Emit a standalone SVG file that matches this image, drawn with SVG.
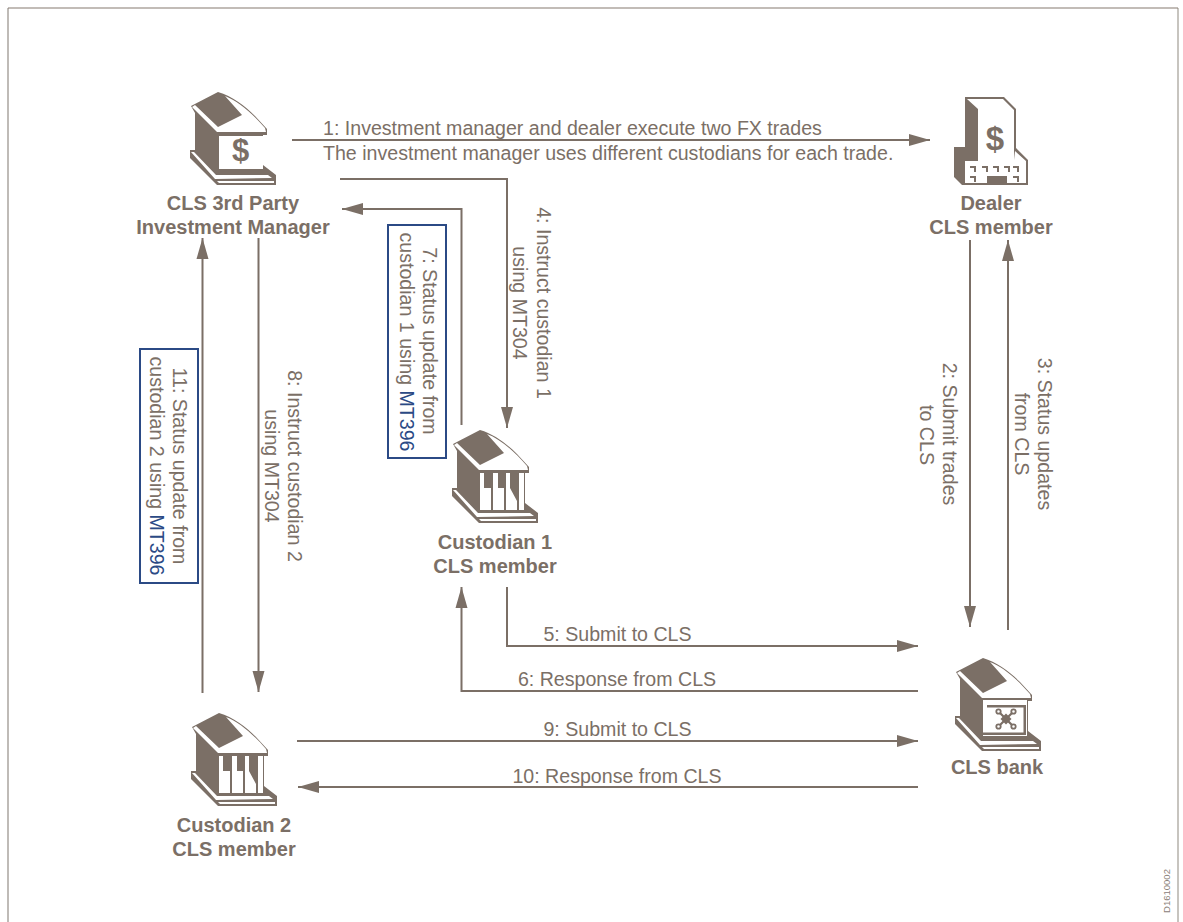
<svg xmlns="http://www.w3.org/2000/svg" width="1183" height="922" viewBox="0 0 1183 922">
<style>
text{font-family:"Liberation Sans",Arial,sans-serif;font-size:19.6px;fill:#7b6f66;text-anchor:middle}
text.s{text-anchor:start}
text.b{font-weight:bold;font-size:20px}
text.m{font-size:9.5px;fill:#8a8078}
text.dl{font-weight:bold;font-size:31px}
.c{fill:none;stroke:#7b6f66;stroke-width:2}
.d{fill:#7b6f66}
.w{fill:#fff}
.box{fill:#fff;stroke:#2b4a85;stroke-width:2}
.bl{fill:#2b4a85}
</style>
<defs>
<marker id="a" markerUnits="userSpaceOnUse" markerWidth="22" markerHeight="14" refX="21" refY="7" orient="auto"><path d="M0,1 L21,7 L0,13 Z" fill="#7b6f66"/></marker>
<g id="shell">
<path class="d" d="M21,21 L48,7 C62,11 75,21 85,31 L97,44 L97,50 L93,50 L93,80 L106,90 L106,100 L47,100 L20,73 L20,65 L25,65 L25,28 Z"/>
<path class="w" d="M22,22 L25,20 L48,42 L72,30 L55,11 C68,16 82,28 95,43 L96,47 L47,47 Z"/>
<path class="w" d="M21,67 L24,67 L46,90 L98,90 L102,93 L45,94 Z M47,96 L104,96 L104,98 L49,98 Z"/>
</g>
<g id="columns">
<path class="w" d="M48,50 H92 V87 H48 Z"/>
<path class="d" d="M52,50 H61 V87 H59 V65 H52 Z M66,50 H74 V87 H72 V65 H66 Z M78,50 H87 V87 H85 V78 L78,65 Z"/>
</g>
</defs>
<rect x="0" y="0" width="1183" height="922" fill="#fff"/>
<path d="M8,922 V8" fill="none" stroke="#aaa59f" stroke-width="1.5"/>
<path d="M1178,8 V922" stroke="#b5b0aa" stroke-width="1.5"/>
<path d="M8,8 H1178" stroke="#857a70" stroke-width="1.2"/>
<g id="connectors">
<path class="c" marker-end="url(#a)" d="M292,140 H930"/>
<path class="c" marker-end="url(#a)" d="M340,179 H507 V428"/>
<path class="c" marker-end="url(#a)" d="M461.5,425 V209 H342"/>
<path class="c" marker-end="url(#a)" d="M258.5,238 V692"/>
<path class="c" marker-end="url(#a)" d="M202.5,693 V238"/>
<path class="c" marker-end="url(#a)" d="M970,240 V627"/>
<path class="c" marker-end="url(#a)" d="M1008,630 V240"/>
<path class="c" marker-end="url(#a)" d="M507,587 V646 H918"/>
<path class="c" marker-end="url(#a)" d="M918,691 H461.5 V587"/>
<path class="c" marker-end="url(#a)" d="M297,741 H918"/>
<path class="c" marker-end="url(#a)" d="M918,787 H298"/>
</g>
<g id="manager">
<use href="#shell" x="170" y="85"/>
<rect class="w" x="219" y="136" width="44" height="33"/>
<text class="dl" x="240.500" y="161">$</text>
<text class="b" x="233" y="210">CLS 3rd Party</text>
<text class="b" x="233" y="234">Investment Manager</text>
</g>
<g id="dealer" transform="translate(920,85)">
<path class="d" d="M45,12 L84,12 L96,24 L96,63 L108,75 L108,100 L42,100 L34,92 L34,62 L45,62 Z"/>
<path class="w" d="M47,14 L83,14 L94,25 L94,75 L95,66 L106,76 L106,98 L45,98 L45,76 L58,76 L58,24 Z"/>
<path class="d" d="M67,91 H87 V98 H67 Z M50,81 h6 v6 h-2 v-4 h-4 Z M62,81 h6 v6 h-2 v-4 h-4 Z M73,81 h6 v6 h-2 v-4 h-4 Z M84,81 h6 v6 h-2 v-4 h-4 Z M93,81 h6 v6 h-2 v-4 h-4 Z M50,91 h6 v6 h-2 v-4 h-4 Z M93,91 h6 v6 h-2 v-4 h-4 Z"/>
<text class="dl" x="75" y="65" style="font-size:33px">$</text>
<text class="b" x="71" y="125">Dealer</text>
<text class="b" x="71" y="149">CLS member</text>
</g>
<g id="custodian1" transform="translate(432,423)">
<use href="#shell"/>
<use href="#columns"/>
<text class="b" x="63" y="126">Custodian 1</text>
<text class="b" x="63" y="150">CLS member</text>
</g>
<g id="custodian2" transform="translate(171,706)">
<use href="#shell"/>
<use href="#columns"/>
<text class="b" x="63" y="126">Custodian 2</text>
<text class="b" x="63" y="150">CLS member</text>
</g>
<g id="clsbank" transform="translate(935,651)">
<use href="#shell"/>
<rect class="w" x="48" y="49" width="44" height="36"/>
<path class="d" d="M52,54 H91 V84 H48 V81.500 H88.500 V56.500 H52 Z"/>
<path d="M63.500,60.500 L78.500,75.500 M78.500,60.500 L63.500,75.500" stroke="#7b6f66" stroke-width="2.200" fill="none"/>
<path class="d" d="M71,62.500 L76.500,68 L71,73.500 L65.500,68 Z"/>
<g class="w" stroke="#7b6f66" stroke-width="1.800"><circle cx="63.500" cy="60.500" r="2.200"/><circle cx="78.500" cy="60.500" r="2.200"/><circle cx="63.500" cy="75.500" r="2.200"/><circle cx="78.500" cy="75.500" r="2.200"/></g>
<text class="b" x="62" y="123">CLS bank</text>
</g>
<g id="labels">
<text class="s" x="323" y="135">1: Investment manager and dealer execute two FX trades</text>
<text class="s" x="323" y="160">The investment manager uses different custodians for each trade.</text>
<text transform="translate(537,303) rotate(90)">4: Instruct custodian 1</text>
<text transform="translate(513,303) rotate(90)">using MT304</text>
<text transform="translate(288,466) rotate(90)">8: Instruct custodian 2</text>
<text transform="translate(265,466) rotate(90)">using MT304</text>
<text transform="translate(943,434) rotate(90)">2: Submit trades</text>
<text transform="translate(920,435) rotate(90)">to CLS</text>
<text transform="translate(1038,434) rotate(90)">3: Status updates</text>
<text transform="translate(1015,434) rotate(90)">from CLS</text>
<text x="617.500" y="641">5: Submit to CLS</text>
<text x="617" y="686">6: Response from CLS</text>
<text x="617.500" y="736">9: Submit to CLS</text>
<text x="617" y="783">10: Response from CLS</text>
</g>
<g id="note7">
<rect class="box" x="388" y="225" width="58" height="233"/>
<text transform="translate(423,341) rotate(90)">7: Status update from</text>
<text transform="translate(400,342) rotate(90)">custodian 1 using <tspan class="bl">MT396</tspan></text>
</g>
<g id="note11">
<rect class="box" x="140" y="349" width="58" height="234"/>
<text transform="translate(173,466) rotate(90)">11: Status update from</text>
<text transform="translate(150,466) rotate(90)">custodian 2 using <tspan class="bl">MT396</tspan></text>
</g>
<text class="m" transform="translate(1170,891) rotate(-90)">D1610002</text>
</svg>
